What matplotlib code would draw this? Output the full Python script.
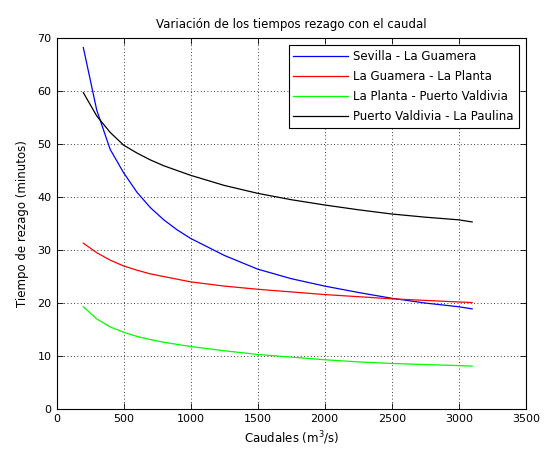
import matplotlib
matplotlib.use('Agg')
import matplotlib.pyplot as plt

# caudales (m3/s)
caudal = [200, 300, 400, 500, 600, 700, 800, 900, 1000, 1250, 1500, 1750,
          2000, 2250, 2500, 2750, 3000, 3100]

sevilla_guamera = [68.2, 56.4, 49.0, 44.6, 40.9, 38.0, 35.7, 33.8, 32.2, 29.0,
                   26.4, 24.6, 23.2, 22.0, 20.9, 20.0, 19.3, 18.9]
guamera_planta = [31.3, 29.5, 28.1, 27.0, 26.2, 25.5, 25.0, 24.5, 24.0, 23.2,
                  22.6, 22.1, 21.6, 21.2, 20.8, 20.5, 20.2, 20.1]
planta_valdivia = [19.3, 17.0, 15.5, 14.5, 13.7, 13.1, 12.6, 12.2, 11.8, 11.0,
                   10.3, 9.8, 9.3, 8.9, 8.6, 8.4, 8.2, 8.1]
valdivia_paulina = [59.7, 55.3, 52.2, 49.8, 48.3, 47.0, 45.9, 45.0, 44.1, 42.2,
                    40.7, 39.5, 38.5, 37.6, 36.8, 36.2, 35.7, 35.3]

etiquetas = ['Sevilla - La Guamera', 'La Guamera - La Planta',
             'La Planta - Puerto Valdivia', 'Puerto Valdivia - La Paulina']
colores = ['#0000ff', '#ff0000', '#00ff00', '#000000']

plt.rcParams['font.family'] = ['DejaVu Sans']
plt.rcParams['font.size'] = 8

fig = plt.figure(figsize=(5.46, 4.5), dpi=100)
ax = fig.add_axes([0.1035, 0.091, 0.8595, 0.8245])

series = [sevilla_guamera, guamera_planta, planta_valdivia, valdivia_paulina]
for y, c, lab in zip(series, colores, etiquetas):
    ax.plot(caudal, y, color=c, lw=0.9, label=lab)

ax.set_xlim(0, 3500)
ax.set_ylim(0, 70)
ax.set_xticks(range(0, 3501, 500))
ax.set_yticks(range(0, 71, 10))
ax.grid(True, linestyle=(0, (1, 3)), color='black', lw=0.6)
ax.tick_params(direction='in', top=True, right=True, length=4, width=0.6)
for s in ax.spines.values():
    s.set_linewidth(0.8)

ax.set_title('Variación de los tiempos rezago con el caudal', fontsize=8.5, pad=7)
ax.set_xlabel('Caudales (m$^3$/s)', fontsize=8.5)
ax.set_ylabel('Tiempo de rezago (minutos)', fontsize=8.5, labelpad=6)

leg = ax.legend(loc='upper right', fancybox=False, edgecolor='black',
                framealpha=1, handlelength=4.6, handletextpad=0.5,
                labelspacing=0.6, borderaxespad=0.6, fontsize=8.5)
leg.get_frame().set_linewidth(0.8)

fig.savefig('out.png', dpi=100)
